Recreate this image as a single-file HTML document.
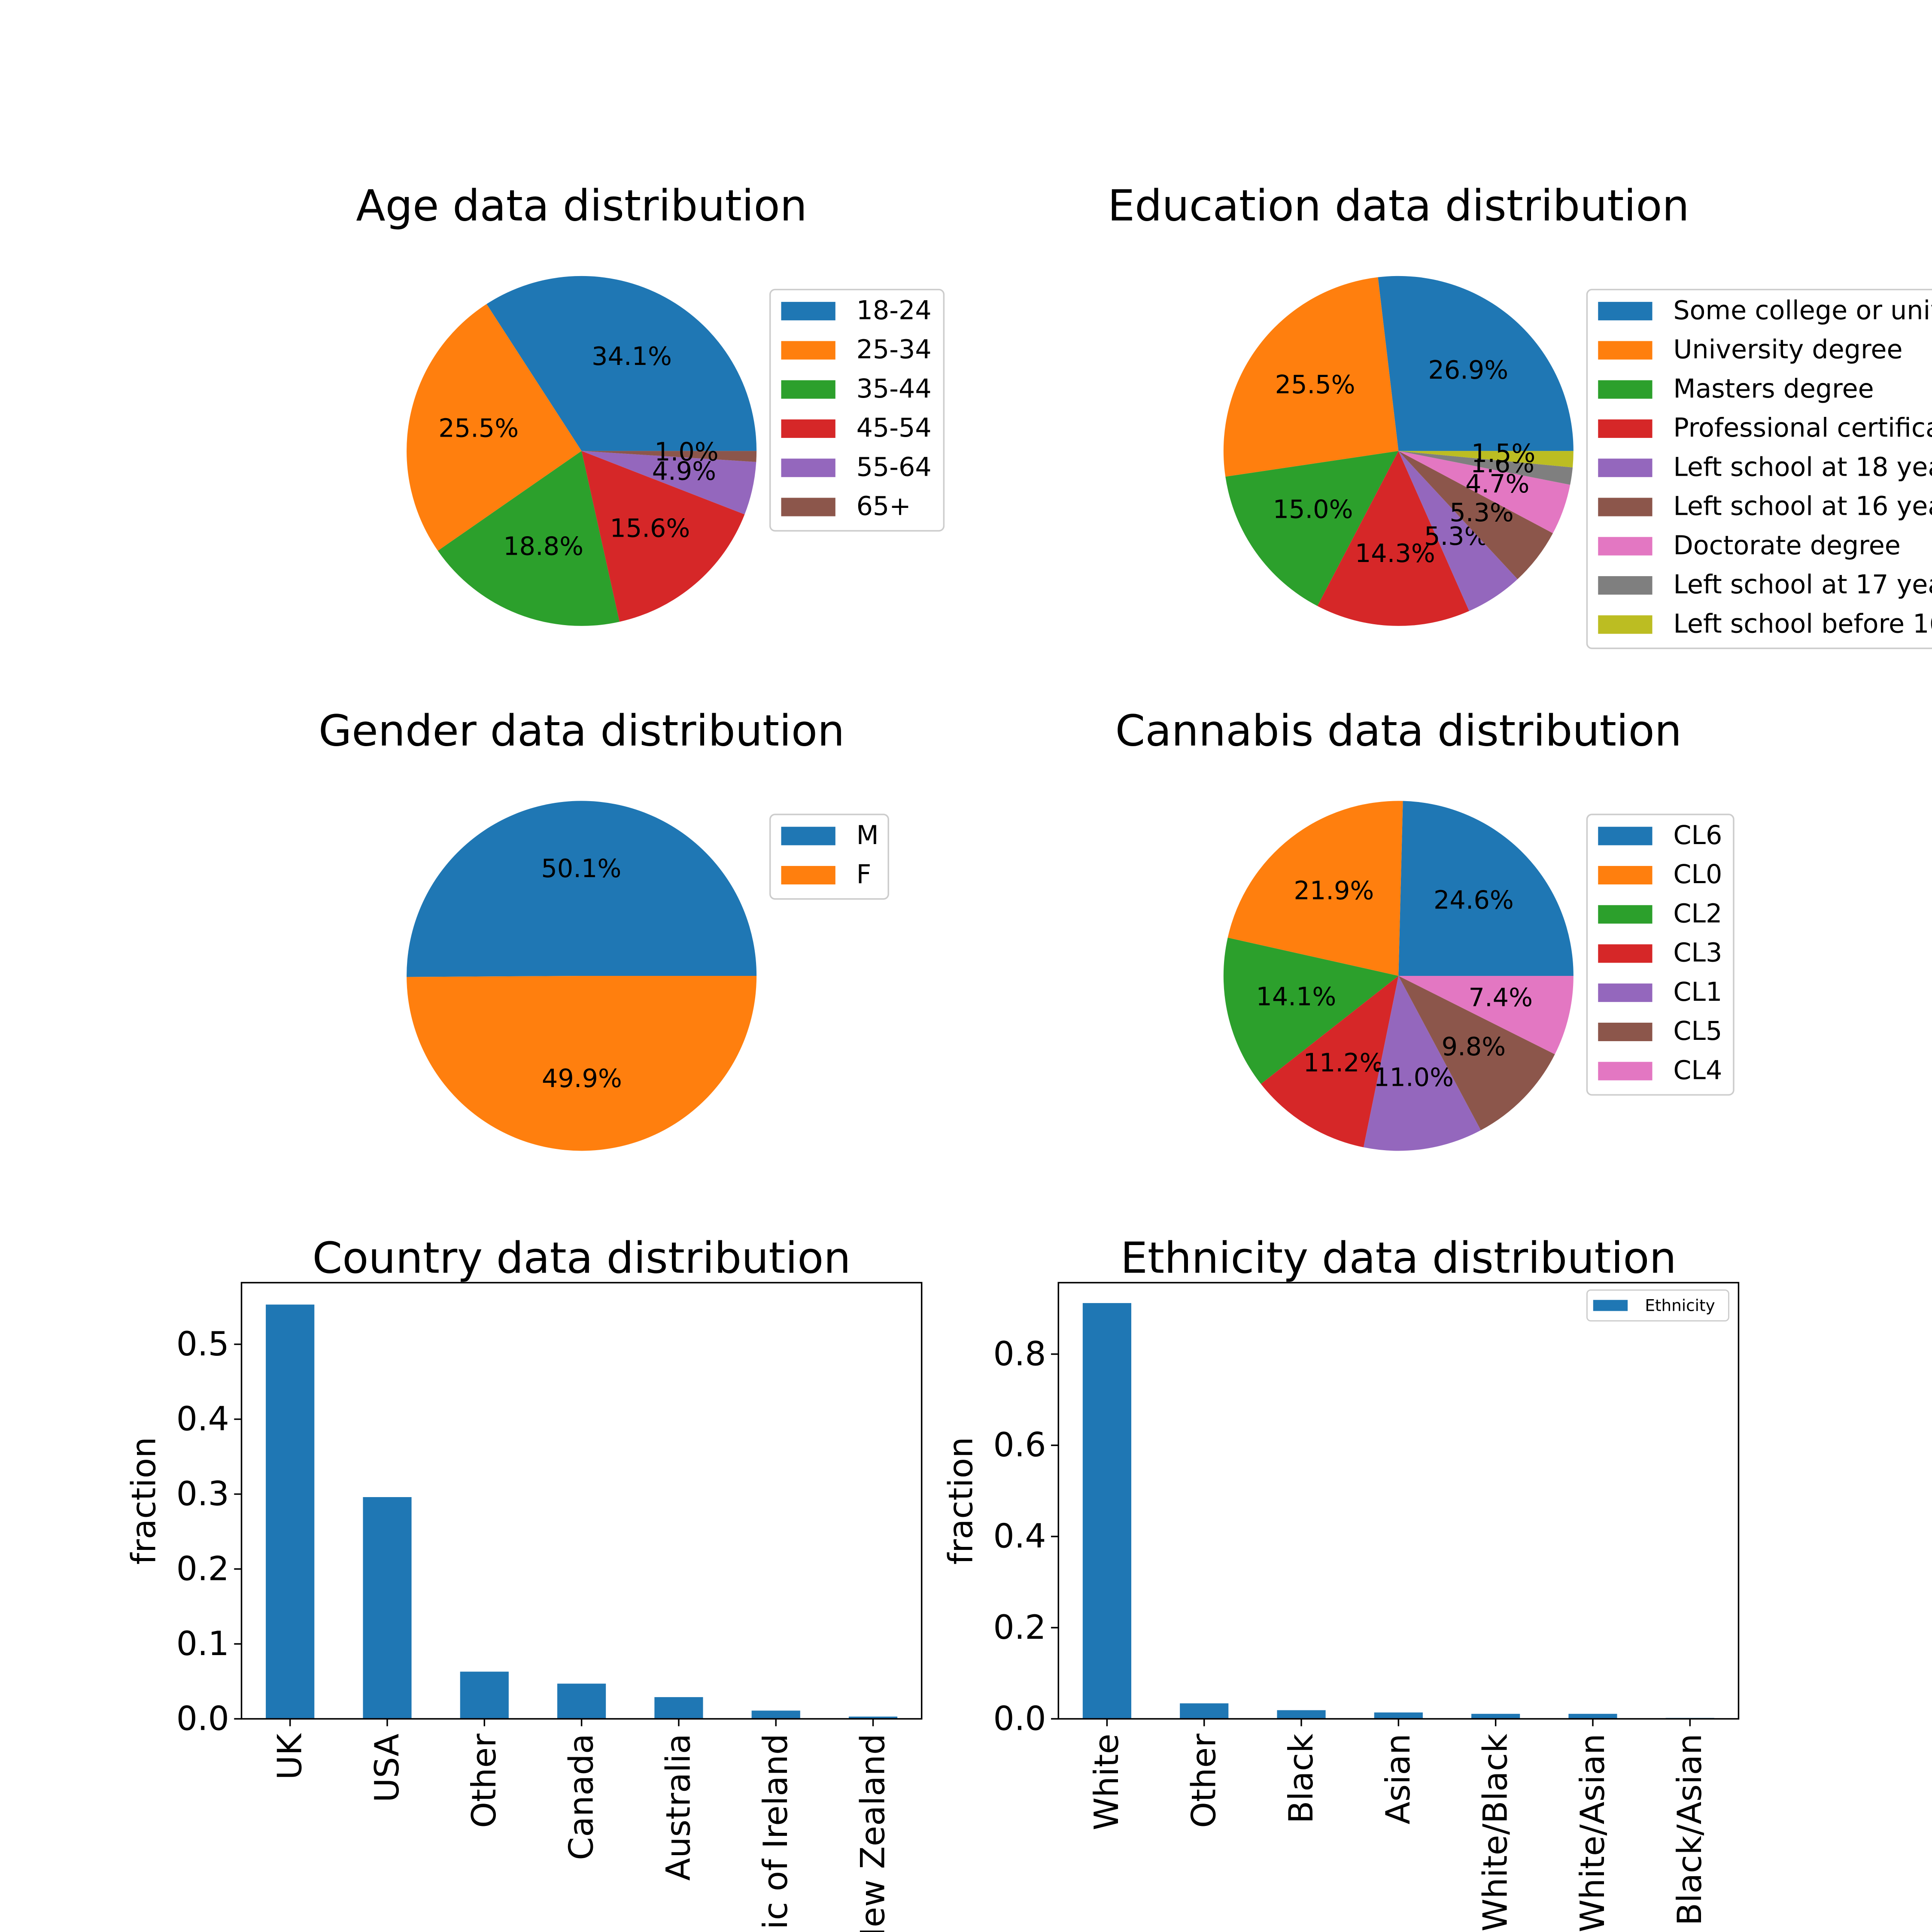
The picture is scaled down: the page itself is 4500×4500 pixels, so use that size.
<!DOCTYPE html>
<html><head><meta charset="utf-8"><style>
html,body{margin:0;padding:0;background:#fff;width:4500px;height:4500px;overflow:hidden}
svg{display:block;font-family:"DejaVu Sans","Liberation Sans",sans-serif}
</style></head><body>
<svg id="c" width="4500" height="4500" viewBox="0 0 1568 1568" xmlns="http://www.w3.org/2000/svg" overflow="hidden"></svg>
<script>
const ageLabels=["18-24","25-34","35-44","45-54","55-64","65+"];
const ageValues=[34.1,25.5,18.8,15.6,4.9,1.0];
const eduLabels=["Some college or university","University degree","Masters degree","Professional certificate","Left school at 18 years","Left school at 16 years","Doctorate degree","Left school at 17 years","Left school before 16 years"];
const eduValues=[26.9,25.5,15.0,14.3,5.3,5.3,4.7,1.6,1.5];
const genderLabels=["M","F"];
const genderValues=[50.1,49.9];
const canLabels=["CL6","CL0","CL2","CL3","CL1","CL5","CL4"];
const canValues=[24.6,21.9,14.1,11.2,11.0,9.8,7.4];
const countryCats=["UK","USA","Other","Canada","Australia","Republic of Ireland","New Zealand"];
const countryValues=[0.553,0.296,0.063,0.047,0.029,0.011,0.003];
const countryTicks=[0,0.1,0.2,0.3,0.4,0.5];
const ethCats=["White","Other","Black","Asian","White/Black","White/Asian","Black/Asian"];
const ethValues=[0.912,0.034,0.019,0.014,0.011,0.011,0.002];
const ethTicks=[0,0.2,0.4,0.6,0.8];
const colors=["#1f77b4","#ff7f0e","#2ca02c","#d62728","#9467bd","#8c564b","#e377c2","#7f7f7f","#bcbd22"];
const svg=document.getElementById('c');
const NS="http://www.w3.org/2000/svg";
function el(t,a,p){const e=document.createElementNS(NS,t);for(const k in a)e.setAttribute(k,a[k]);(p||svg).appendChild(e);return e;}
function txt(s,a,p){const e=el('text',a,p);e.textContent=s;return e;}

function pie(title,labels,values,cx,cy,r,legX,legW,key){
  const g=el('g',{});
  
  
  const t=txt(title,{x:cx,y:cy-187,'font-size':34.8,'text-anchor':'middle'},g);
  
  
  const tot=values.reduce((a,b)=>a+b,0);
  let a0=0;
  values.forEach((v,i)=>{
    const a1=a0+v/tot*2*Math.PI;
    const x0=cx+r*Math.cos(a0),y0=cy-r*Math.sin(a0),x1=cx+r*Math.cos(a1),y1=cy-r*Math.sin(a1);
    const big=(a1-a0)>Math.PI?1:0;
    const p=el('path',{d:`M${cx},${cy}L${x0},${y0}A${r},${r} 0 ${big} 0 ${x1},${y1}Z`,fill:colors[i]},g);
    
    
    const am=(a0+a1)/2;
    const l=txt(v.toFixed(1)+'%',{x:cx+0.6*r*Math.cos(am),y:cy-0.6*r*Math.sin(am)+5,'font-size':20.5,'text-anchor':'middle'},g);
    
    
    a0=a1;
  });
  const lg=el('g',{},g);
  
  
  const ly=cy-131;
  el('rect',{x:legX,y:ly,width:legW,height:labels.length*31.8+5,rx:4,fill:'#fff',stroke:'#ccc','stroke-width':1.2},lg);
  labels.forEach((s,i)=>{
    const yy=ly+17+i*31.8;
    const r2=el('rect',{x:legX+9,y:yy-7,width:44,height:15,fill:colors[i]},lg);
    
    
    const tt=txt(s,{x:legX+70,y:yy+7,'font-size':21},lg);
    
    
  });
}
pie("Age data distribution",ageLabels,ageValues,472,366,142,625,141,'age');
pie("Education data distribution",eduLabels,eduValues,1135,366,142,1288,320,'education');
pie("Gender data distribution",genderLabels,genderValues,472,792,142,625,96,'gender');
pie("Cannabis data distribution",canLabels,canValues,1135,792,142,1288,119,'cannabis');

function bar(title,cats,values,ticks,x0,x1,y0,y1,maxV,key,legend){
  const g=el('g',{});
  
  
  const ys=v=>y1-(v/maxV)*(y1-y0);
  const n=cats.length, step=(x1-x0)/n;
  const xs=i=>x0+step*(i+0.5);
  const t=txt(title,{x:(x0+x1)/2,y:y0-8,'font-size':34.8,'text-anchor':'middle'},g);
  
  
  values.forEach((v,i)=>{
    const b=el('rect',{x:xs(i)-step*0.25,y:ys(v),width:step*0.5,height:y1-ys(v),fill:'#1f77b4'},g);
    
    
    el('line',{x1:xs(i),x2:xs(i),y1:y1,y2:y1+6,stroke:'#000','stroke-width':1.2},g);
    const l=txt(cats[i],{transform:`translate(${xs(i)+9},${y1+12}) rotate(-90)`,'font-size':27,'text-anchor':'end'},g);
    
    
  });
  ticks.forEach(v=>{
    el('line',{x1:x0-6,x2:x0,y1:ys(v),y2:ys(v),stroke:'#000','stroke-width':1.2},g);
    const l=txt(v.toFixed(1),{x:x0-10,y:ys(v)+9,'font-size':27,'text-anchor':'end'},g);
    
    
  });
  el('rect',{x:x0,y:y0,width:x1-x0,height:y1-y0,fill:'none',stroke:'#000','stroke-width':1.2},g);
  const yl=txt('fraction',{transform:`translate(${x0-70},${(y0+y1)/2}) rotate(-90)`,'font-size':27,'text-anchor':'middle'},g);
  
  
  if(legend){
    const lg=el('g',{},g);
    
    
    el('rect',{x:x1-123,y:y0+6,width:115,height:25,rx:3,fill:'#fff',stroke:'#ccc'},lg);
    el('rect',{x:x1-118,y:y0+14,width:28,height:9,fill:'#1f77b4'},lg);
    txt(legend,{x:x1-76,y:y0+23,'font-size':13},lg);
  }
}
bar("Country data distribution",countryCats,countryValues,countryTicks,196,748,1041,1395,0.5/(304/354),'country');
bar("Ethnicity data distribution",ethCats,ethValues,ethTicks,859,1411,1041,1395,0.8/(296/354),'ethnicity','Ethnicity');
</script>
</body></html>
